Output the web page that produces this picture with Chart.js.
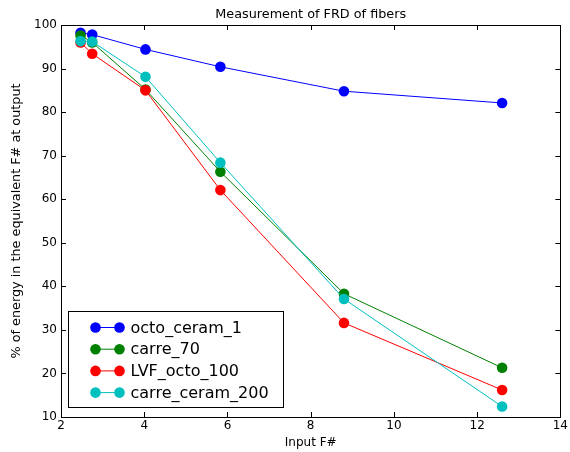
<!DOCTYPE html>
<html>
<head>
<meta charset="utf-8">
<script src="https://cdn.jsdelivr.net/npm/chart.js@4/dist/chart.umd.min.js"></script>
<style>
html,body{margin:0;padding:0;background:#fff;}
#wrap{width:570px;height:452px;position:relative;}
</style>
</head>
<body>
<div id="wrap"><canvas id="c" width="570" height="452"></canvas></div>
<script>
const chartTitle = "Measurement of FRD of fibers";
const xTitle = "Input F#";
const yTitle = "% of energy in the equivalent F# at output";
const fNumbers = [2.47, 2.75, 4.03, 5.83, 8.8, 12.6];
const seriesNames = ["octo_ceram_1", "carre_70", "LVF_octo_100", "carre_ceram_200"];
const octoCeram1 = [98.2, 97.8, 94.4, 90.4, 84.8, 82.1];
const carre70 = [97.6, 96.0, 85.2, 66.3, 38.3, 21.3];
const lvfOcto100 = [96.0, 93.4, 85.0, 62.1, 31.6, 16.2];
const carreCeram200 = [96.3, 96.2, 88.1, 68.4, 37.1, 12.4];
const xTicks = [2, 4, 6, 8, 10, 12, 14];
const yTicks = [10, 20, 30, 40, 50, 60, 70, 80, 90, 100];

const colors = ["#0000ff", "#008000", "#ff0000", "#00bfbf"];
const seriesValues = [octoCeram1, carre70, lvfOcto100, carreCeram200];
const FONT = "'DejaVu Sans', sans-serif";

const datasets = seriesValues.map((vals, i) => ({
  label: seriesNames[i],
  data: vals.map((v, j) => ({x: fNumbers[j], y: v})),
  borderColor: colors[i],
  backgroundColor: colors[i],
  pointBackgroundColor: colors[i],
  pointBorderColor: colors[i],
  pointBorderWidth: 0,
  pointRadius: 5.3,
  borderWidth: 1,
  tension: 0,
  order: seriesValues.length - i,
  clip: false
}));

const framePlugin = {
  id: 'frame',
  afterDraw(chart) {
    const ctx = chart.ctx;
    const ca = chart.chartArea;
    const xs = chart.scales.x, ys = chart.scales.y;
    ctx.save();
    ctx.strokeStyle = '#000';
    ctx.lineWidth = 1;
    const tl = 5;
    ctx.beginPath();
    xTicks.forEach(t => {
      const px = Math.round(xs.getPixelForValue(t)) + 0.5;
      ctx.moveTo(px, ca.bottom); ctx.lineTo(px, ca.bottom - tl);
      ctx.moveTo(px, ca.top); ctx.lineTo(px, ca.top + tl);
    });
    yTicks.forEach(t => {
      const py = Math.round(ys.getPixelForValue(t)) + 0.5;
      ctx.moveTo(ca.left, py); ctx.lineTo(ca.left + tl, py);
      ctx.moveTo(ca.right, py); ctx.lineTo(ca.right - tl, py);
    });
    ctx.stroke();
    ctx.strokeRect(Math.round(ca.left) + 0.5, Math.round(ca.top) + 0.5,
                   Math.round(ca.right - ca.left), Math.round(ca.bottom - ca.top));
    // title
    ctx.fillStyle = '#000';
    ctx.font = '12.8px ' + FONT;
    ctx.textAlign = 'center';
    ctx.textBaseline = 'alphabetic';
    ctx.fillText(chartTitle, (ca.left + ca.right) / 2, ca.top - 7);
    // legend box
    const bx = ca.left + 7.5, by = ca.bottom - 105.5, bw = 215, bh = 96;
    ctx.fillStyle = '#fff';
    ctx.fillRect(bx, by, bw, bh);
    ctx.strokeRect(bx, by, bw, bh);
    ctx.font = '16px ' + FONT;
    ctx.textAlign = 'left';
    ctx.textBaseline = 'middle';
    seriesNames.forEach((name, i) => {
      const yy = by + 16 + i * 21.7;
      ctx.strokeStyle = colors[i];
      ctx.fillStyle = colors[i];
      ctx.lineWidth = 1;
      ctx.beginPath();
      ctx.moveTo(bx + 27, yy); ctx.lineTo(bx + 51, yy);
      ctx.stroke();
      [bx + 27, bx + 51].forEach(cx => {
        ctx.beginPath(); ctx.arc(cx, yy, 5.3, 0, Math.PI * 2); ctx.fill();
      });
      ctx.fillStyle = '#000';
      ctx.fillText(name, bx + 62, yy + 1);
    });
    ctx.restore();
  }
};

new Chart(document.getElementById('c'), {
  type: 'line',
  data: { datasets },
  options: {
    responsive: false,
    animation: false,
    devicePixelRatio: 1,
    layout: { padding: { top: 25, right: 9, left: 0, bottom: 0 } },
    plugins: { legend: { display: false }, title: { display: false }, tooltip: { enabled: false } },
    scales: {
      x: {
        type: 'linear', min: 2, max: 14,
        afterFit(s) { s.height = 35; },
        afterBuildTicks(s) { s.ticks = xTicks.map(v => ({value: v})); },
        grid: { display: false, drawTicks: false },
        border: { display: false },
        ticks: { color: '#000', font: { family: FONT, size: 12 }, padding: 2, maxRotation: 0 },
        title: { display: true, text: xTitle, color: '#000', font: { family: FONT, size: 12 }, padding: { top: 2, bottom: 2 } }
      },
      y: {
        type: 'linear', min: 10, max: 100,
        afterFit(s) { s.width = 61; },
        afterBuildTicks(s) { s.ticks = yTicks.map(v => ({value: v})); },
        grid: { display: false, drawTicks: false },
        border: { display: false },
        ticks: { color: '#000', font: { family: FONT, size: 12 }, padding: 4 },
        title: { display: true, text: yTitle, color: '#000', font: { family: FONT, size: 12.8 }, padding: { top: 9, bottom: 4 } }
      }
    }
  },
  plugins: [framePlugin]
});
</script>
</body>
</html>
